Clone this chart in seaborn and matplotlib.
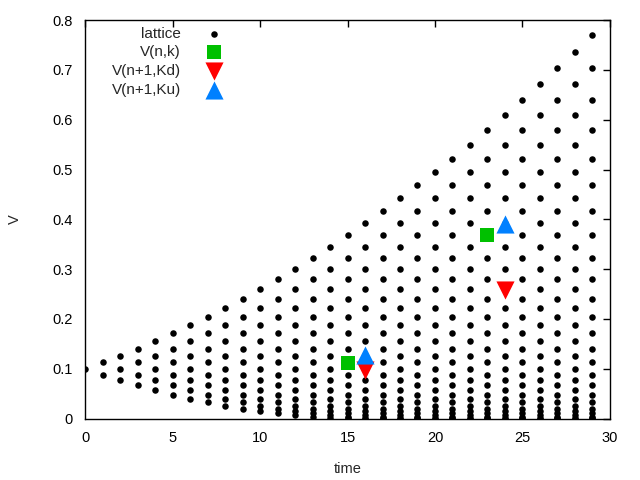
import numpy as np
import pandas as pd
import matplotlib
matplotlib.use("Agg")
import matplotlib.pyplot as plt
import seaborn as sns

# lattice values, one list per time step
lattice = [
    [0.100],
    [0.088, 0.113],
    [0.077, 0.100, 0.126],
    [0.067, 0.088, 0.113, 0.140],
    [0.057, 0.077, 0.100, 0.126, 0.155],
    [0.048, 0.067, 0.088, 0.113, 0.140, 0.171],
    [0.040, 0.057, 0.077, 0.100, 0.126, 0.155, 0.187],
    [0.033, 0.048, 0.067, 0.088, 0.113, 0.140, 0.171, 0.204],
    [0.026, 0.040, 0.057, 0.077, 0.100, 0.126, 0.155, 0.187, 0.222],
    [0.020, 0.033, 0.048, 0.067, 0.088, 0.113, 0.140, 0.171, 0.204, 0.240],
    [0.015, 0.026, 0.040, 0.057, 0.077, 0.100, 0.126, 0.155, 0.187, 0.222, 0.260],
    [0.011, 0.020, 0.033, 0.048, 0.067, 0.088, 0.113, 0.140, 0.171, 0.204, 0.240, 0.280],
    [0.007, 0.015, 0.026, 0.040, 0.057, 0.077, 0.100, 0.126, 0.155, 0.187, 0.222, 0.260, 0.301],
    [0.004, 0.011, 0.020, 0.033, 0.048, 0.067, 0.088, 0.113, 0.140, 0.171, 0.204, 0.240, 0.280, 0.322],
    [0.002, 0.007, 0.015, 0.026, 0.040, 0.057, 0.077, 0.100, 0.126, 0.155, 0.187, 0.222, 0.260, 0.301, 0.345],
    [0.001, 0.004, 0.011, 0.020, 0.033, 0.048, 0.067, 0.088, 0.113, 0.140, 0.171, 0.204, 0.240, 0.280, 0.322, 0.368],
    [0.000, 0.002, 0.007, 0.015, 0.026, 0.040, 0.057, 0.077, 0.100, 0.126, 0.155, 0.187, 0.222, 0.260, 0.301, 0.345, 0.392],
    [0.000, 0.001, 0.004, 0.011, 0.020, 0.033, 0.048, 0.067, 0.088, 0.113, 0.140, 0.171, 0.204, 0.240, 0.280, 0.322, 0.368, 0.416],
    [0.000, 0.002, 0.007, 0.015, 0.026, 0.040, 0.057, 0.077, 0.100, 0.126, 0.155, 0.187, 0.222, 0.260, 0.301, 0.345, 0.392, 0.442],
    [0.000, 0.001, 0.004, 0.011, 0.020, 0.033, 0.048, 0.067, 0.088, 0.113, 0.140, 0.171, 0.204, 0.240, 0.280, 0.322, 0.368, 0.416, 0.468],
    [0.000, 0.002, 0.007, 0.015, 0.026, 0.040, 0.057, 0.077, 0.100, 0.126, 0.155, 0.187, 0.222, 0.260, 0.301, 0.345, 0.392, 0.442, 0.495],
    [0.000, 0.001, 0.004, 0.011, 0.020, 0.033, 0.048, 0.067, 0.088, 0.113, 0.140, 0.171, 0.204, 0.240, 0.280, 0.322, 0.368, 0.416, 0.468, 0.522],
    [0.000, 0.002, 0.007, 0.015, 0.026, 0.040, 0.057, 0.077, 0.100, 0.126, 0.155, 0.187, 0.222, 0.260, 0.301, 0.345, 0.392, 0.442, 0.495, 0.550],
    [0.000, 0.001, 0.004, 0.011, 0.020, 0.033, 0.048, 0.067, 0.088, 0.113, 0.140, 0.171, 0.204, 0.240, 0.280, 0.322, 0.368, 0.416, 0.468, 0.522, 0.580],
    [0.000, 0.002, 0.007, 0.015, 0.026, 0.040, 0.057, 0.077, 0.100, 0.126, 0.155, 0.187, 0.222, 0.260, 0.301, 0.345, 0.392, 0.442, 0.495, 0.550, 0.609],
    [0.000, 0.001, 0.004, 0.011, 0.020, 0.033, 0.048, 0.067, 0.088, 0.113, 0.140, 0.171, 0.204, 0.240, 0.280, 0.322, 0.368, 0.416, 0.468, 0.522, 0.580, 0.640],
    [0.000, 0.002, 0.007, 0.015, 0.026, 0.040, 0.057, 0.077, 0.100, 0.126, 0.155, 0.187, 0.222, 0.260, 0.301, 0.345, 0.392, 0.442, 0.495, 0.550, 0.609, 0.671],
    [0.000, 0.001, 0.004, 0.011, 0.020, 0.033, 0.048, 0.067, 0.088, 0.113, 0.140, 0.171, 0.204, 0.240, 0.280, 0.322, 0.368, 0.416, 0.468, 0.522, 0.580, 0.640, 0.703],
    [0.000, 0.002, 0.007, 0.015, 0.026, 0.040, 0.057, 0.077, 0.100, 0.126, 0.155, 0.187, 0.222, 0.260, 0.301, 0.345, 0.392, 0.442, 0.495, 0.550, 0.609, 0.671, 0.736],
    [0.000, 0.001, 0.004, 0.011, 0.020, 0.033, 0.048, 0.067, 0.088, 0.113, 0.140, 0.171, 0.204, 0.240, 0.280, 0.322, 0.368, 0.416, 0.468, 0.522, 0.580, 0.640, 0.703, 0.770],
]

# highlighted nodes
vnk_t, vnk_v = [15, 23], [0.112, 0.368]
vkd_t, vkd_v = [16, 24], [0.097, 0.259]
vku_t, vku_v = [16, 24], [0.128, 0.391]

xticks = [0, 5, 10, 15, 20, 25, 30]
yticks = [0, 0.1, 0.2, 0.3, 0.4, 0.5, 0.6, 0.7, 0.8]

rows = [(t, v) for t, vals in enumerate(lattice) for v in vals]
df = pd.DataFrame(rows, columns=["time", "V"])

sns.set_style("white")
plt.rcParams["font.family"] = ["Liberation Sans", "DejaVu Sans"]
plt.rcParams["font.size"] = 10

fig = plt.figure(figsize=(6.4, 4.8), dpi=100)
ax = fig.add_axes([0.133, 0.128, 0.820, 0.830])

sns.scatterplot(data=df, x="time", y="V", ax=ax, color="black", marker="o",
                s=22, linewidth=0, label="lattice", zorder=3)
sns.scatterplot(x=vnk_t, y=vnk_v, ax=ax, color="#00c000", marker="s",
                s=110, linewidth=0, label="V(n,k)", zorder=4)
sns.scatterplot(x=vkd_t, y=vkd_v, ax=ax, color="#ff0000", marker="v",
                s=170, linewidth=0, label="V(n+1,Kd)", zorder=4)
sns.scatterplot(x=vku_t, y=vku_v, ax=ax, color="#0080ff", marker="^",
                s=170, linewidth=0, label="V(n+1,Ku)", zorder=4)

ax.set_xlim(0, 30)
ax.set_ylim(0, 0.8)
ax.set_xticks(xticks)
ax.set_yticks(yticks)
ax.set_xticklabels([str(t) for t in xticks])
ax.set_yticklabels(["0"] + [f"{v:.1f}" for v in yticks[1:]])
ax.tick_params(direction="in", length=5, width=1, top=True, right=True,
               colors="black", pad=9, labelsize=10.5)
for sp in ax.spines.values():
    sp.set_color("black")
    sp.set_linewidth(1)
ax.set_xlabel("time", fontsize=10.5, labelpad=12)
ax.set_ylabel("V", fontsize=10.5, labelpad=22)

ax.legend(loc="upper left", bbox_to_anchor=(0.03, 1.01), frameon=False,
          markerfirst=False, fontsize=11, handletextpad=1.2,
          labelspacing=0.3, borderaxespad=0.3)

fig.savefig("out.png", dpi=100)
